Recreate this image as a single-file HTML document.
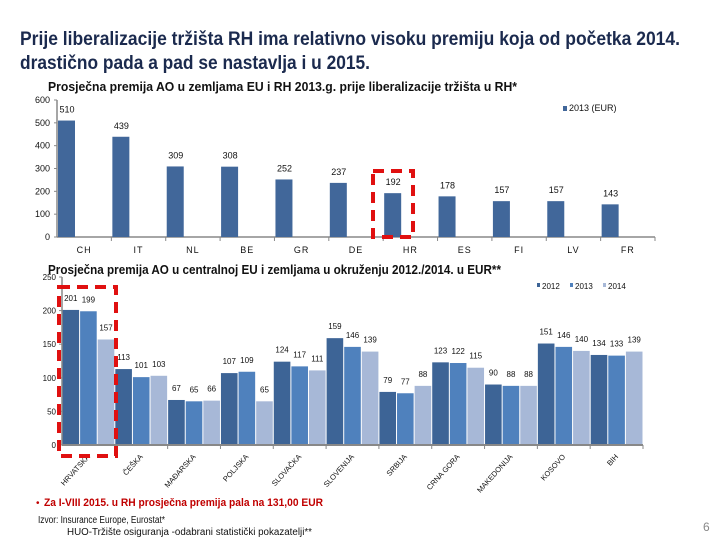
<!DOCTYPE html>
<html><head><meta charset="utf-8"><style>
html,body{margin:0;padding:0;background:#fff;}
svg{display:block;font-family:"Liberation Sans",sans-serif;}
</style></head><body>
<svg id="s" width="720" height="540" viewBox="0 0 720 540" xmlns="http://www.w3.org/2000/svg">
<text x="20" y="45" font-size="19" font-weight="bold" fill="#1b2a4e" textLength="660" lengthAdjust="spacingAndGlyphs">Prije liberalizacije tržišta RH ima relativno visoku premiju koja od početka 2014.</text>
<text x="20" y="69" font-size="19" font-weight="bold" fill="#1b2a4e" textLength="350" lengthAdjust="spacingAndGlyphs">drastično pada a pad se nastavlja i u 2015.</text>
<text x="48" y="91" font-size="13" font-weight="bold" fill="#111" textLength="469" lengthAdjust="spacingAndGlyphs">Prosječna premija AO u zemljama EU i RH 2013.g. prije liberalizacije tržišta u RH*</text>
<text x="48" y="274" font-size="13" font-weight="bold" fill="#111" textLength="453" lengthAdjust="spacingAndGlyphs">Prosječna premija AO u centralnoj EU i zemljama u okruženju 2012./2014. u EUR**</text>
<g id="top"></g>
<g id="bot"></g>
<rect x="373" y="171" width="40" height="66" fill="none" stroke="#e01010" stroke-width="4" stroke-dasharray="11,7"/>
<rect x="59" y="287" width="57" height="169" fill="none" stroke="#e01010" stroke-width="4" stroke-dasharray="11,7"/>
<text x="36" y="506" font-size="10" fill="#c00000">•</text>
<text x="44" y="506" font-size="11" font-weight="bold" fill="#c00000" textLength="279" lengthAdjust="spacingAndGlyphs">Za I-VIII 2015. u RH prosječna premija pala na 131,00 EUR</text>
<text x="38" y="523" font-size="10" fill="#111" textLength="127" lengthAdjust="spacingAndGlyphs">Izvor: Insurance Europe, Eurostat*</text>
<text x="67" y="535" font-size="10" fill="#111" textLength="245" lengthAdjust="spacingAndGlyphs">HUO-Tržište osiguranja -odabrani statistički pokazatelji**</text>
<text x="703" y="531" font-size="12" fill="#888">6</text>
</svg>
<script>
const topCats=["CH","IT","NL","BE","GR","DE","HR","ES","FI","LV","FR"];
const topVals=[510,439,309,308,252,237,192,178,157,157,143];
const topTicks=[0,100,200,300,400,500,600];
const botCats=["HRVATSKA","ČEŠKA","MAĐARSKA","POLJSKA","SLOVAČKA","SLOVENIJA","SRBIJA","CRNA GORA","MAKEDONIJA","KOSOVO","BIH"];
const s2012=[201,113,67,107,124,159,79,123,90,151,134];
const s2013=[199,101,65,109,117,146,77,122,88,146,133];
const s2014=[157,103,66,65,111,139,88,115,88,140,139];
const botTicks=[0,50,100,150,200,250];
const NS="http://www.w3.org/2000/svg";
function mk(p,t,a,txt){const e=document.createElementNS(NS,t);for(const k in a)e.setAttribute(k,a[k]);if(txt!==undefined)e.textContent=txt;p.appendChild(e);return e;}
// top chart
const T=document.getElementById('top');
const tx0=57,tx1=655,ty0=237,ty1=100,tmax=600;
const tY=v=>ty0-(v/tmax)*(ty0-ty1);
const tw=(tx1-tx0)/topCats.length;
const tX=i=>tx0+i*tw;
topTicks.forEach(v=>{
 const t=mk(T,'text',{x:tx0-7,y:tY(v)+3,'font-size':9,'text-anchor':'end',fill:'#111'},v);
 
 
 mk(T,'line',{x1:tx0-3,x2:tx0,y1:tY(v),y2:tY(v),stroke:'#888'});
});
mk(T,'line',{x1:tx0,x2:tx0,y1:ty1,y2:ty0,stroke:'#888','stroke-width':1.5});
mk(T,'line',{x1:tx0,x2:tx1,y1:ty0,y2:ty0,stroke:'#888','stroke-width':1.5});
topCats.forEach((c,i)=>{
 mk(T,'line',{x1:tX(i+1),x2:tX(i+1),y1:ty0,y2:ty0+4,stroke:'#888'});
 const b=mk(T,'rect',{x:tX(i)+1,y:tY(topVals[i]),width:17,height:ty0-tY(topVals[i]),fill:'#41679a'});
 
 
 const l=mk(T,'text',{x:tX(i)+10,y:tY(topVals[i])-8,'font-size':9,'text-anchor':'middle',fill:'#111'},topVals[i]);
 
 
 const cl=mk(T,'text',{x:tX(i)+tw/2,y:ty0+16,'font-size':9,'text-anchor':'middle',fill:'#111','letter-spacing':1},c);
 
 
});
mk(T,'rect',{x:563,y:106,width:4,height:5,fill:'#41679a'});
const tl=mk(T,'text',{x:569,y:111,'font-size':9,fill:'#111'},'2013 (EUR)');


// bottom chart
const B=document.getElementById('bot');
const bx0=62,bx1=643,by0=445,by1=277,bmax=250;
const bY=v=>by0-(v/bmax)*(by0-by1);
const bw=(bx1-bx0)/botCats.length;
const bX=i=>bx0+i*bw;
botTicks.forEach(v=>{
 const t=mk(B,'text',{x:bx0-6,y:bY(v)+3,'font-size':8,'text-anchor':'end',fill:'#111'},v);
 
 
 mk(B,'line',{x1:bx0-3,x2:bx0,y1:bY(v),y2:bY(v),stroke:'#888'});
});
const series=[s2012,s2013,s2014];
const cols=['#3d6496','#4f81bd','#a7b8d7'];
const yrs=['2012','2013','2014'];
const sw=bw/3;
botCats.forEach((c,i)=>{
 series.forEach((s,k)=>{
  const x=bX(i)+k*sw;
  const b=mk(B,'rect',{x:x+0.5,y:bY(s[i]),width:sw-1,height:by0-bY(s[i]),fill:cols[k]});
  
  
  const l=mk(B,'text',{x:x+sw/2,y:bY(s[i])-9,'font-size':8,'text-anchor':'middle',fill:'#111'},s[i]);
  
  
 });
 mk(B,'line',{x1:bX(i+1),x2:bX(i+1),y1:by0,y2:by0+4,stroke:'#888'});
 const cx=bX(i)+bw/2+2;
 const cl=mk(B,'text',{x:cx,y:457,'font-size':7.5,'text-anchor':'end',fill:'#111',transform:'rotate(-48 '+cx+' 457)'},c);
 
 
});
mk(B,'line',{x1:bx0,x2:bx0,y1:by1,y2:by0,stroke:'#888','stroke-width':1.5});
mk(B,'line',{x1:bx0,x2:bx1,y1:by0,y2:by0,stroke:'#888','stroke-width':2});
[537,570,603].forEach((x,k)=>{
 mk(B,'rect',{x:x,y:283,width:3,height:4,fill:cols[k]});
 const t=mk(B,'text',{x:x+5,y:289,'font-size':8,fill:'#111'},yrs[k]);
 
 
});
</script>
</body></html>
